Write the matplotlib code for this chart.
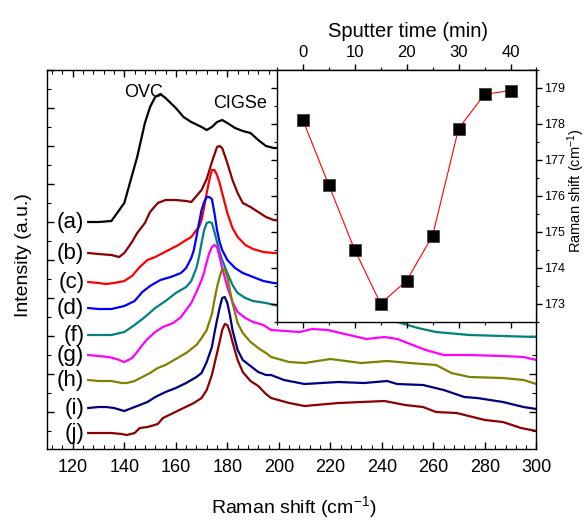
import matplotlib
matplotlib.use("Agg")
import matplotlib.pyplot as plt
import matplotlib.ticker as mticker

plt.rcParams.update({
    "font.family": "Liberation Sans",
    "mathtext.fontset": "custom",
    "mathtext.rm": "Liberation Sans",
    "mathtext.default": "regular",
    "axes.linewidth": 1.0,
})

# ---------------------------------------------------------------------------
# Data: Raman spectra (stacked, arbitrary intensity units)
# ---------------------------------------------------------------------------
a_x = [126, 130, 135, 140, 145, 148, 150, 152, 154, 156, 158, 160, 163, 166,
       170, 172, 174, 176, 178, 180, 183, 186, 189, 192, 195, 198, 202]
a_y = [228, 228, 229, 247, 293, 327, 343, 353, 356, 352, 347, 342, 333, 328,
       323, 320, 323, 328, 330, 327, 322, 319, 317, 310, 304, 302, 302]

b_x = [126, 130, 135, 138, 140, 143, 145, 148, 150, 153, 156, 160, 164, 166,
       168, 170, 172, 174, 176, 177, 178, 180, 182, 184, 186, 189, 192, 195,
       198, 202]
b_y = [197, 196, 195, 193, 197, 208, 217, 227, 238, 247, 250, 250, 249, 248,
       254, 260, 271, 288, 303, 304, 302, 287, 270, 257, 247, 243, 238, 233,
       230, 229]

c_x = [126, 130, 133, 136, 140, 143, 146, 149, 152, 155, 158, 161, 164, 166,
       168, 169, 170, 171, 172, 173, 174, 175, 176, 177, 178, 180, 182, 184,
       187, 190, 194, 198, 202]
c_y = [168, 167, 166, 167, 169, 174, 183, 190, 193, 197, 201, 205, 210, 213,
       220, 223, 230, 243, 257, 270, 280, 280, 275, 267, 257, 237, 222, 213,
       205, 201, 198, 197, 197]

d_x = [126, 130, 135, 140, 144, 147, 150, 154, 158, 162, 164, 166, 167, 168,
       169, 170, 171, 172, 173, 174, 175, 176, 177, 178, 180, 183, 186, 190,
       194, 198, 202]
d_y = [142, 141, 141, 144, 149, 158, 164, 170, 173, 177, 182, 192, 200, 213,
       227, 240, 248, 253, 253, 251, 237, 220, 208, 200, 190, 182, 177, 173,
       169, 167, 166]

f_x = [126, 130, 135, 140, 144, 148, 152, 156, 160, 164, 166, 168, 169, 170,
       171, 172, 173, 174, 175, 176, 177, 178, 180, 182, 184, 187, 190, 195,
       200, 220, 240, 246, 254, 261, 274, 287, 300]
f_y = [115, 115, 115, 118, 125, 133, 142, 149, 157, 163, 169, 182, 193, 207,
       220, 227, 228, 227, 218, 208, 198, 190, 177, 165, 157, 152, 149, 147,
       144, 137, 131, 128, 122, 118, 115, 114, 113]

g_x = [126, 130, 134, 137, 140, 143, 145, 147, 149, 152, 155, 159, 162, 164,
       166, 168, 170, 171, 172, 173, 174, 175, 176, 177, 178, 180, 182, 184,
       187, 190, 194, 197, 208, 213, 219, 224, 234, 241, 246, 252, 257, 264,
       274, 287, 295, 300]
g_y = [95, 94, 93, 91, 88, 92, 98, 105, 111, 118, 123, 127, 133, 140,
       147, 158, 170, 178, 188, 197, 203, 205, 203, 193, 182, 163, 148, 138,
       132, 128, 125, 120, 118, 121, 120, 117, 111, 113, 111, 105, 100, 95,
       95, 94, 93, 90]

h_x = [126, 130, 135, 139, 141, 144, 147, 150, 153, 156, 160, 164, 168, 170,
       172, 174, 175, 176, 177, 178, 179, 180, 181, 182, 184, 186, 189, 192,
       195, 197, 204, 210, 220, 232, 242, 251, 261, 267, 274, 287, 295, 300]
h_y = [70, 69, 69, 67, 67, 69, 73, 77, 82, 85, 91, 97, 105, 112,
       120, 136, 150, 163, 173, 181, 181, 173, 160, 147, 127, 117, 108, 102,
       97, 93, 88, 87, 91, 87, 89, 87, 85, 77, 73, 72, 70, 66]

i_x = [126, 130, 133, 136, 140, 143, 146, 149, 152, 156, 160, 164, 168, 170,
       172, 174, 175, 176, 177, 178, 179, 180, 181, 182, 184, 186, 189, 192,
       195, 197, 202, 210, 223, 233, 242, 246, 256, 264, 272, 277, 287, 295,
       300]
i_y = [42, 43, 43, 42, 39, 42, 45, 48, 53, 58, 62, 67, 73, 77,
       88, 103, 117, 130, 142, 152, 153, 147, 135, 120, 100, 90, 84, 78,
       75, 75, 70, 66, 68, 67, 69, 66, 65, 60, 53, 52, 48, 43, 41]

j_x = [126, 130, 135, 139, 141, 144, 146, 149, 153, 155, 159, 163, 167, 170,
       172, 174, 176, 177, 178, 179, 180, 181, 182, 184, 186, 189, 192, 195,
       197, 204, 210, 223, 241, 249, 256, 261, 269, 280, 287, 294, 300]
j_y = [17, 17, 17, 16, 15, 17, 22, 23, 26, 32, 37, 42, 47, 52,
       60, 75, 97, 108, 120, 126, 125, 118, 108, 90, 78, 69, 64, 56,
       52, 47, 44, 47, 49, 45, 43, 38, 37, 30, 28, 22, 19]

labels = ["(a)", "(b)", "(c)", "(d)", "(f)", "(g)", "(h)", "(i)", "(j)"]
colors = ["#000000", "#8B0000", "#FF0000", "#0000FF", "#008080",
          "#FF00FF", "#808000", "#000080", "#8B0000"]
spectra = [(a_x, a_y), (b_x, b_y), (c_x, c_y), (d_x, d_y), (f_x, f_y),
           (g_x, g_y), (h_x, h_y), (i_x, i_y), (j_x, j_y)]

# Inset: peak position vs sputter time
sputter_time = [0, 5, 10, 15, 20, 25, 30, 35, 40]
peak_shift = [178.12, 176.31, 174.50, 173.00, 173.64, 174.89, 177.87, 178.82, 178.93]

# ---------------------------------------------------------------------------
# Figure
# ---------------------------------------------------------------------------
fig = plt.figure(figsize=(5.86, 5.24), dpi=100, facecolor="white")
ax = fig.add_axes([0.0802, 0.1431, 0.8353, 0.7233])

for (xs, ys), col in zip(spectra, colors):
    ax.plot(xs, ys, color=col, lw=1.6, solid_joinstyle="round")

for lab, (xs, ys) in zip(labels, spectra):
    ax.text(124.5, ys[0], lab, fontsize=16, ha="right", va="center")

ax.text(147.3, 358, "OVC", fontsize=13, ha="center", va="center")
ax.text(185, 347, "CIGSe", fontsize=13, ha="center", va="center")

ax.set_xlim(110, 300)
ax.set_ylim(1, 380)
ax.xaxis.set_major_locator(mticker.MultipleLocator(20))
ax.xaxis.set_minor_locator(mticker.MultipleLocator(4))
ax.yaxis.set_major_locator(mticker.MultipleLocator(38))
ax.yaxis.set_minor_locator(mticker.MultipleLocator(19))
ax.tick_params(axis="both", which="both", direction="in",
               top=True, right=True, labelleft=False)
ax.tick_params(axis="both", which="major", length=5, width=1.0)
ax.tick_params(axis="both", which="minor", length=3, width=0.8)
ax.tick_params(axis="x", labelsize=13, pad=7)

ax.set_xlabel("Raman shift (cm$^{-1}$)", fontsize=14)
ax.xaxis.set_label_coords(0.505, -0.119)
ax.set_ylabel("Intensity (a.u.)", fontsize=14)
ax.yaxis.set_label_coords(-0.03, 0.512)

# ---------------------------------------------------------------------------
# Inset
# ---------------------------------------------------------------------------
ax_in = fig.add_axes([0.4722, 0.3861, 0.4433, 0.4803])
ax_in.set_facecolor("white")
ax_in.plot(sputter_time, peak_shift, color="#FF0000", lw=0.8,
           marker="s", ms=8, mfc="black", mec="#333333", mew=0.5)

ax_in.set_xlim(-5, 45)
ax_in.set_ylim(172.5, 179.5)
ax_in.xaxis.set_major_locator(mticker.MultipleLocator(10))
ax_in.xaxis.set_minor_locator(mticker.MultipleLocator(5))
ax_in.yaxis.set_major_locator(mticker.MultipleLocator(1))
ax_in.yaxis.set_minor_locator(mticker.MultipleLocator(0.5))
ax_in.xaxis.tick_top()
ax_in.yaxis.tick_right()
ax_in.tick_params(axis="both", which="both", direction="out",
                  top=True, bottom=True, left=True, right=True,
                  labeltop=True, labelbottom=False,
                  labelright=True, labelleft=False)
ax_in.tick_params(axis="both", which="major", length=4, width=1.0)
ax_in.tick_params(axis="both", which="minor", length=2.5, width=0.8)
ax_in.tick_params(axis="x", labelsize=12, pad=3)
ax_in.tick_params(axis="y", labelsize=9, pad=1.5)

ax_in.xaxis.set_label_position("top")
ax_in.set_xlabel("Sputter time (min)", fontsize=14.5)
ax_in.xaxis.set_label_coords(0.505, 1.13)
ax_in.yaxis.set_label_position("right")
ax_in.set_ylabel("Raman shift (cm$^{-1}$)", fontsize=10.5)
ax_in.yaxis.set_label_coords(1.112, 0.522)

fig.savefig("out.png", dpi=100, facecolor="white")
